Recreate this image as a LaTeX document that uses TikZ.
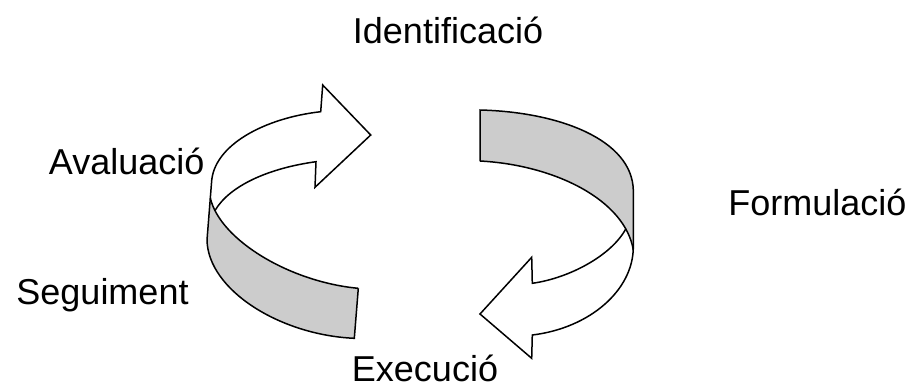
\documentclass[tikz,border=0pt]{standalone}
\usepackage{fontspec}
\setmainfont{Liberation Sans}
\definecolor{bandgray}{RGB}{204,204,204}
\begin{document}
\begin{tikzpicture}[x=1pt,y=-1pt,
  ribbon/.style={draw=black,line width=1.5pt,line join=miter},
  bandfill/.style={fill=bandgray},
  lbl/.style={font=\fontsize{36}{40}\selectfont,inner sep=0pt,anchor=base}]
\useasboundingbox[fill=white] (0,0) rectangle (915,389);

% ---------- left piece (Avaluacio / Seguiment) ----------
\fill[bandfill] (210.3,198) .. controls (220,240) and (290,282) .. (358.3,288.3)
  -- (354.3,338.3) .. controls (280,335) and (208,290) .. (207,240) -- cycle;
\draw[ribbon] (358.3,288.3) -- (354.3,338.3)
  .. controls (280,335) and (208,290) .. (207,240)
  -- (211.5,183) .. controls (213,145) and (265,118) .. (320.7,111.7)
  -- (322.7,85) -- (370.7,135) -- (315,187.3) -- (316,161.7)
  .. controls (270,168) and (230,185) .. (215,210.5);
\draw[ribbon] (210.3,198) .. controls (220,240) and (290,282) .. (358.3,288.3);

% ---------- right piece (Formulacio / Execucio) ----------
\fill[bandfill] (480,110) .. controls (560,112) and (632,140) .. (633.3,190)
  -- (633.3,250) .. controls (625,200) and (555,165) .. (480,161) -- cycle;
\draw[ribbon] (480,161) -- (480,110)
  .. controls (560,112) and (632,140) .. (633.3,190)
  -- (633.3,247) .. controls (633.3,290) and (590,328) .. (532.3,335)
  -- (531.7,358.3) -- (480,314) -- (531.7,257.3) -- (532.3,283.3)
  .. controls (570,278) and (612,255) .. (626,228.5);
\draw[ribbon] (480,161) .. controls (555,165) and (625,200) .. (633.3,250);

% ---------- labels ----------
\node[lbl] (ident) at (448,43.3) {Identificació};
\node[lbl] (aval)  at (126.7,174.3) {Avaluació};
\node[lbl] (segu)  at (102.5,304) {Seguiment};
\node[lbl] (form)  at (817.5,215) {Formulació};
\node[lbl] (exec)  at (425,381.7) {Execució};
\end{tikzpicture}
\end{document}
